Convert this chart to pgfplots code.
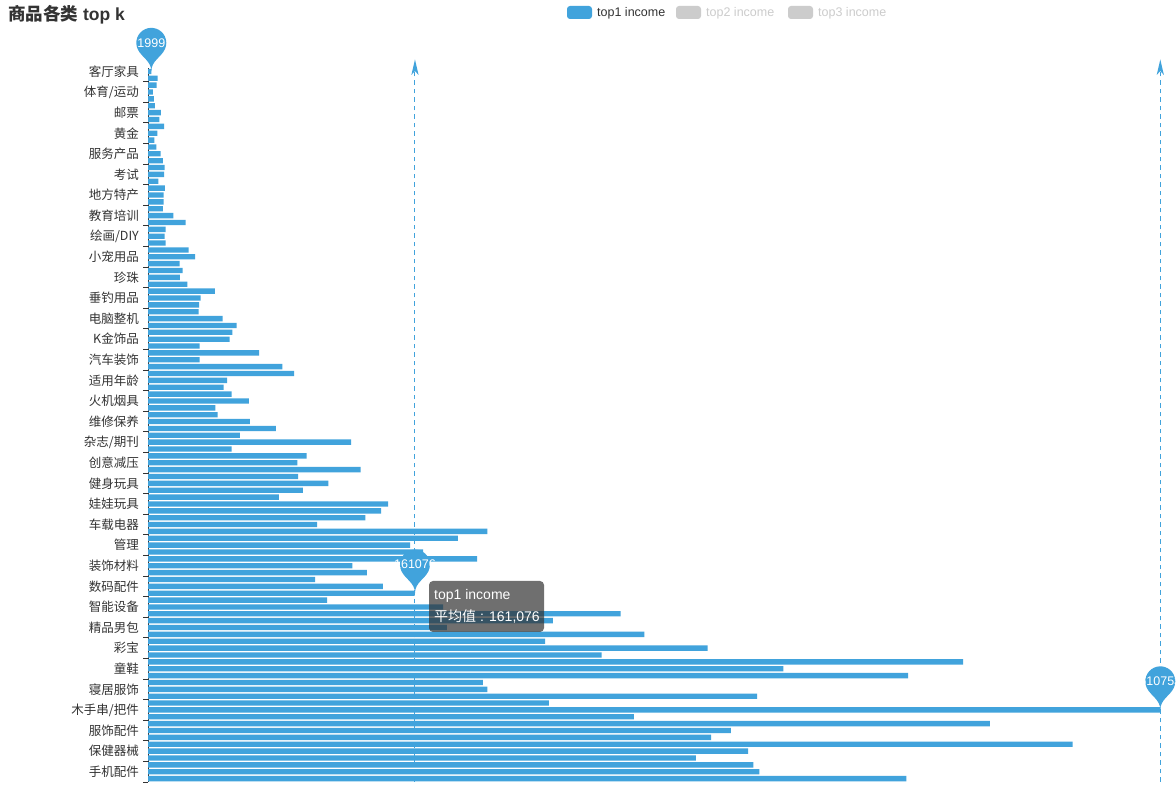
\documentclass[border=0pt]{standalone}
\usepackage{pgfplots}
\pgfplotsset{compat=1.18}
\usepackage{fontspec}
\setmainfont{Liberation Sans}
\newfontfamily\cjk{Noto Sans CJK SC}
\definecolor{barblue}{HTML}{41A3DC}
\definecolor{axisgray}{HTML}{333333}
\definecolor{leggray}{HTML}{CCCCCC}
\definecolor{tipgray}{RGB}{50,50,50}

\newcommand{\pinshape}[2]{%
 \begin{scope}[shift={(#1)}]
  \fill[barblue] (-13.55bp,22.14bp) arc[start angle=205.4, end angle=-25.4, radius=15bp]
     .. controls (9.69bp,14.01bp) and (0bp,10.5bp) .. (0bp,0bp)
     .. controls (0bp,10.5bp) and (-9.69bp,14.01bp) .. (-13.55bp,22.14bp) -- cycle;
  \node[text=white, font=\fontsize{12.5bp}{12.5bp}\selectfont, inner sep=0pt] at (0bp,28.57bp) {#2};
 \end{scope}}
\newcommand{\arrowtop}[1]{%
 \begin{scope}[shift={(#1)}]
  \fill[barblue] (0bp,8.5bp) -- (3.6bp,-7bp) -- (0bp,-3bp) -- (-3.6bp,-7bp) -- cycle;
 \end{scope}}

\begin{document}
\begin{tikzpicture}
\path[use as bounding box] (0,0) rectangle (1176bp,785bp);
\fill[white] (0,0) rectangle (1176bp,785bp);
\begin{axis}[
  at={(148bp,3bp)}, anchor=south west,
  scale only axis, width=1028bp, height=714bp,
  xmin=0, xmax=620200, ymin=-0.5, ymax=103.5,
  y dir=reverse,
  axis x line=none,
  axis y line*=left,
  axis line style={draw=axisgray, line width=1bp},
  xtick=\empty,
  ytick={0,3,...,102},
  yticklabels={客厅家具,体育/运动,邮票,黄金,服务产品,考试,地方特产,教育培训,绘画/DIY,小宠用品,珍珠,垂钓用品,电脑整机,K金饰品,汽车装饰,适用年龄,火机烟具,维修保养,杂志/期刊,创意减压,健身玩具,娃娃玩具,车载电器,管理,装饰材料,数码配件,智能设备,精品男包,彩宝,童鞋,寝居服饰,木手串/把件,服饰配件,保健器械,手机配件},
  minor ytick={1.5,4.5,...,103.5},
  major tick length=0pt,
  minor tick length=5bp,
  tick align=outside,
  tick style={draw=axisgray, line width=1bp},
  yticklabel style={font=\cjk\fontsize{12.5bp}{12.5bp}\selectfont, text=axisgray, anchor=east, inner sep=0pt, xshift=-9bp},
  clip=false,
]
\addplot[xbar, fill=barblue, draw=none, bar width=0.78, bar shift=0pt] coordinates {
(1999,0) (5800,1) (5200,2) (3000,3) (3600,4) (4200,5) (7800,6) (6800,7) (9800,8) (5600,9)
(3800,10) (5000,11) (7600,12) (9000,13) (10000,14) (9800,15) (6200,16) (10200,17) (9400,18) (9400,19)
(9000,20) (15300,21) (22700,22) (10600,23) (10000,24) (10600,25) (24500,26) (28400,27) (19100,28) (20900,29)
(19300,30) (23700,31) (40400,32) (31700,33) (30800,34) (30500,35) (45000,36) (53500,37) (50900,38) (49200,39)
(31100,40) (67000,41) (31100,42) (81000,43) (88100,44) (47800,45) (45600,46) (50400,47) (60900,48) (40600,49)
(42000,50) (61500,51) (77200,52) (55500,53) (122500,54) (50400,55) (95700,56) (90100,57) (128300,58) (90500,59)
(108800,60) (93500,61) (79000,62) (144800,63) (140600,64) (131100,65) (102000,66) (204700,67) (187000,68) (158100,69)
(166000,70) (198500,71) (123300,72) (132100,73) (100800,74) (141700,75) (160800,76) (108000,77) (178000,78) (285100,79)
(244300,80) (180300,81) (299500,82) (239600,83) (337600,84) (273700,85) (491800,86) (383400,87) (458600,88) (202000,89)
(204800,90) (367500,91) (241900,92) (610753,93) (293100,94) (508000,95) (351700,96) (339700,97) (557900,98) (362000,99)
(330600,100) (365200,101) (368800,102) (457500,103)
};
\coordinate (pmin) at (axis cs:1999,0);
\coordinate (pavg) at (axis cs:161076,76);
\coordinate (pmax) at (axis cs:610753,93);
\coordinate (avgtop) at (axis cs:161076,-0.5);
\coordinate (avgbot) at (axis cs:161076,103.5);
\coordinate (maxtop) at (axis cs:610753,-0.5);
\coordinate (maxbot) at (axis cs:610753,103.5);
\end{axis}
% mark lines
\draw[barblue, line width=1bp, dash pattern=on 4.5bp off 4bp] (avgbot) -- (avgtop);
\draw[barblue, line width=1bp, dash pattern=on 4.5bp off 4bp] (maxbot) -- (maxtop);
\arrowtop{avgtop}
\arrowtop{maxtop}
% mark points
\pinshape{pmin}{1999}
\pinshape{pavg}{161076}
\pinshape{pmax}{610753}
% tooltip
\fill[tipgray, fill opacity=0.7, rounded corners=4bp] (429bp,204bp) rectangle (544bp,153bp);
\node[anchor=west, text=white, inner sep=0pt, font=\fontsize{14bp}{14bp}\selectfont] at (434bp,189bp) {top1 income};
\node[anchor=west, text=white, inner sep=0pt, font=\fontsize{14bp}{14bp}\selectfont] at (434bp,168bp) {{\cjk 平均值} : 161,076};
% title
\node[anchor=west, text=axisgray, inner sep=0pt, font=\bfseries\fontsize{17.5bp}{17.5bp}\selectfont] at (8bp,770bp) {{\cjk\bfseries 商品各类} top k};
% legend
\fill[barblue, rounded corners=3bp] (567bp,779bp) rectangle (592bp,766bp);
\node[anchor=west, text=axisgray, inner sep=0pt, font=\fontsize{12.5bp}{12.5bp}\selectfont] at (597bp,772bp) {top1 income};
\fill[leggray, rounded corners=3bp] (676bp,779bp) rectangle (701bp,766bp);
\node[anchor=west, text=leggray, inner sep=0pt, font=\fontsize{12.5bp}{12.5bp}\selectfont] at (706bp,772bp) {top2 income};
\fill[leggray, rounded corners=3bp] (788bp,779bp) rectangle (813bp,766bp);
\node[anchor=west, text=leggray, inner sep=0pt, font=\fontsize{12.5bp}{12.5bp}\selectfont] at (818bp,772bp) {top3 income};
\end{tikzpicture}
\end{document}
